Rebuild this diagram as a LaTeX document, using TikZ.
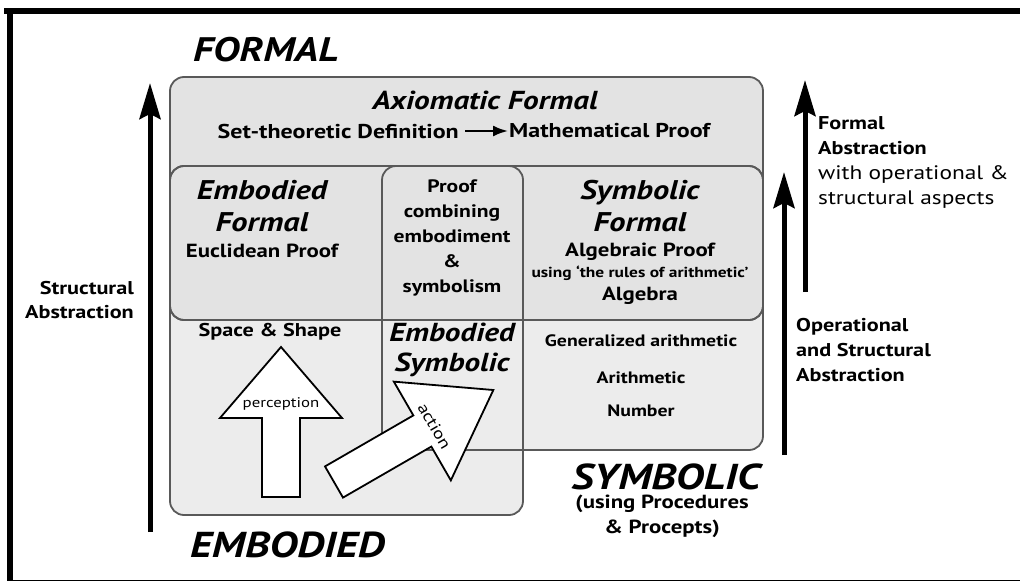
\documentclass[tikz,border=0pt]{standalone}
\usepackage{fontspec}
\setmainfont{PT Sans}[FakeStretch=1.2]
\usetikzlibrary{calc,positioning}
\usetikzlibrary{arrows.meta}
\tikzset{>={Stealth[length=36pt,width=21pt,inset=5pt]}}

\definecolor{formalgray}{gray}{0.89}
\definecolor{lowgray}{gray}{0.925}
\definecolor{boxline}{gray}{0.35}

\begin{document}
\begin{tikzpicture}[x=1pt,y=-1pt]
  \tikzstyle{world} = [font=\fontsize{36}{36}\selectfont\bfseries\itshape, inner sep=0pt]
  \tikzstyle{head} = [font=\fontsize{27}{32}\selectfont\bfseries\itshape, inner sep=0pt, align=center]
  \tikzstyle{txt} = [font=\fontsize{19}{25}\selectfont\bfseries, inner sep=0pt, align=center]
  \tikzstyle{box} = [draw=boxline, line width=1.8pt, rounded corners=14pt]
  \tikzstyle{bigarrow} = [line width=5pt, ->]
  \tikzstyle{fatarrow} = [draw=black, line width=1.8pt, fill=white, line join=miter]

  \useasboundingbox (0,0) rectangle (1020,581);
  % frame
  \fill (4,8) rectangle (1020,14);
  \fill (7,8) rectangle (13,581);
  \fill (7,579.5) rectangle (1020,581);

  % the worlds: fill first, outlines after
  \fill[formalgray, rounded corners=14pt] (170,77) rectangle (763,320);
  \fill[lowgray, rounded corners=14pt] (170,166) rectangle (523,515);
  \fill[lowgray, rounded corners=14pt] (382,166) rectangle (763,450);
  \fill[formalgray, rounded corners=14pt] (170,166) rectangle (763,320);

  \draw[box] (170,77) rectangle (763,320);
  \draw[box] (170,166) rectangle (763,320);
  \draw[box] (170,166) rectangle (523,515);
  \draw[box] (382,166) rectangle (763,450);

  % perception and action
  \draw[fatarrow] (262,497) -- (262,418) -- (220,418) -- (281,347) -- (342,418) -- (300,418) -- (300,497) -- cycle;
  \node[font=\fontsize{14}{14}\selectfont, inner sep=0pt] (perc) at (281,404) {perception};
  \begin{scope}[shift={(334,482)}, rotate=30]
    \draw[fatarrow] (0,-18) -- (102,-18) -- (102,-57) -- (184,0) -- (102,57) -- (102,18) -- (0,18) -- cycle;
    \node[font=\fontsize{16}{16}\selectfont, inner sep=0pt, rotate=-60] (act) at (115,2) {action};
  \end{scope}

  % world names
  \node[world, font=\fontsize{34}{34}\selectfont\bfseries\itshape, anchor=base west] (formal) at (193,61) {FORMAL};
  \node[world, anchor=base west] (embodied) at (190,557) {EMBODIED};
  \node[world] (symbolic) at (666,477) {SYMBOLIC};
  \node[txt] (procs) at (662,516) {(using Procedures\\\& Procepts)};

  % formal
  \node[head, font=\fontsize{26}{26}\selectfont\bfseries\itshape] (axf) at (485,100) {Axiomatic Formal};
  \node[txt, font=\fontsize{20}{20}\selectfont\bfseries, anchor=east] (defn) at (459,131) {Set-theoretic Definition};
  \node[txt, font=\fontsize{20}{20}\selectfont\bfseries, anchor=west] (mproof) at (509,131) {Mathematical Proof};
  \draw[-{Latex[length=15pt,width=11pt]}, line width=2.2pt, shorten <=6pt, shorten >=1pt] (defn) -- (mproof);

  \node[head] (embf) at (262,206) {Embodied\\Formal};
  \node[txt] (eucl) at (262,251) {Euclidean Proof};
  \node[txt, font=\fontsize{18}{25}\selectfont\bfseries] (comb) at (452,238) {Proof\\combining\\embodiment\\\&\\symbolism};
  \node[head] (symf) at (640,206) {Symbolic\\Formal};
  \node[txt] (algp) at (640,252) {Algebraic Proof};
  \node[txt, font=\fontsize{14.5}{14.5}\selectfont\bfseries] (rules) at (640,273) {using `the rules of arithmetic'};
  \node[txt] (alg) at (640,296) {Algebra};

  % embodied and symbolic
  \node[txt, font=\fontsize{18.5}{18.5}\selectfont\bfseries] (space) at (270,332) {Space \& Shape};
  \node[head, font=\fontsize{26}{30}\selectfont\bfseries\itshape] (embs) at (452,350) {Embodied\\Symbolic};
  \node[txt, font=\fontsize{16.5}{16.5}\selectfont\bfseries] (gen) at (641,341) {Generalized arithmetic};
  \node[txt, font=\fontsize{16.5}{16.5}\selectfont\bfseries] (arith) at (641,378) {Arithmetic};
  \node[txt, font=\fontsize{16.5}{16.5}\selectfont\bfseries] (numb) at (641,411) {Number};

  % abstraction arrows
  \coordinate (sabot) at (150,532);
  \coordinate (satip) at (150,83);
  \draw[bigarrow] (sabot) -- (satip);
  \node[txt, font=\fontsize{18.5}{24}\selectfont\bfseries, align=right, anchor=east] (sabs) at (134,300) {Structural\\Abstraction};

  \coordinate (osbot) at (784,455);
  \coordinate (ostip) at (784,172);
  \draw[bigarrow] (osbot) -- (ostip);
  \node[txt, font=\fontsize{18.5}{25}\selectfont\bfseries, align=left, anchor=west] (osabs) at (796,350) {Operational\\and Structural\\Abstraction};

  \coordinate (fabot) at (805,292);
  \coordinate (fatip) at (805,80);
  \draw[bigarrow] (fabot) -- (fatip);
  \node[txt, font=\fontsize{18.5}{25}\selectfont\bfseries, align=left, anchor=north west] (fabs) at (818,116) {Formal\\Abstraction\\{\fontsize{19.5}{25}\selectfont\mdseries with operational \&}\\{\fontsize{19.5}{25}\selectfont\mdseries structural aspects}};
\end{tikzpicture}
\end{document}
